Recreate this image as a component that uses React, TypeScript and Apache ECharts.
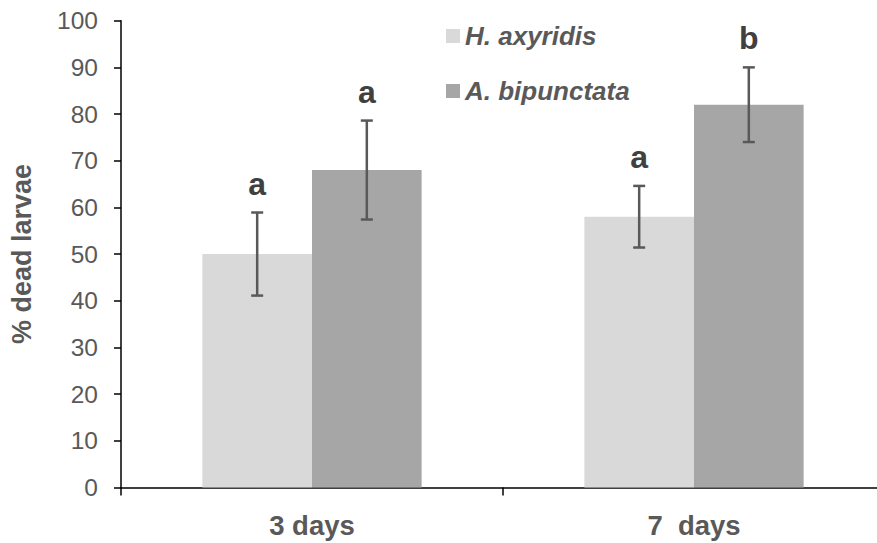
import React, { useEffect, useRef } from "react";
import * as echarts from "echarts";

const categories = ["3 days", "7  days"];
const seriesNames = ["H. axyridis", "A. bipunctata"];
const hValues = [50, 58];
const aValues = [68, 82];
const hErrors = [8.9, 6.6];
const aErrors = [10.6, 8.0];
const hLetters = ["a", "a"];
const aLetters = ["a", "b"];
const yTicks = [0, 10, 20, 30, 40, 50, 60, 70, 80, 90, 100];

const FONT = "'Liberation Sans', Arial, sans-serif";
const BAR_RATIO = 0.287;

function errSeries(name: string, values: number[], errs: number[], letters: string[], sign: number) {
  return {
    type: "custom",
    name: name + " err",
    z: 5,
    clip: false,
    data: values.map((v, i) => [i, v - errs[i], v + errs[i]]),
    encode: { x: 0, y: [1, 2] },
    renderItem: (params: any, api: any) => {
      const cat = api.value(0);
      const lo = api.value(1);
      const hi = api.value(2);
      const band = api.size([1, 0])[0];
      const top = api.coord([cat, hi]);
      const bot = api.coord([cat, lo]);
      const x = top[0] + (sign * band * BAR_RATIO) / 2;
      const cap = 6;
      const st = { stroke: "#595959", lineWidth: 2.5 };
      return {
        type: "group",
        children: [
          { type: "line", shape: { x1: x, y1: top[1], x2: x, y2: bot[1] }, style: st },
          { type: "line", shape: { x1: x - cap, y1: top[1], x2: x + cap, y2: top[1] }, style: st },
          { type: "line", shape: { x1: x - cap, y1: bot[1], x2: x + cap, y2: bot[1] }, style: st },
          {
            type: "text",
            x: x,
            y: top[1] - 13,
            style: {
              text: letters[params.dataIndex],
              fill: "#404040",
              font: `bold 32px ${FONT}`,
              align: "center",
              verticalAlign: "bottom",
            },
          },
        ],
      };
    },
  };
}

export default function App() {
  const ref = useRef<HTMLDivElement>(null);
  useEffect(() => {
    if (!ref.current) return;
    const chart = echarts.init(ref.current, null, { renderer: "svg" });
    chart.setOption({
      animation: false,
      backgroundColor: "#ffffff",
      grid: { left: 121, right: 0, top: 20.7, bottom: 55.6, containLabel: false },
      legend: {
        data: seriesNames,
        orient: "vertical",
        left: 441,
        top: 18,
        itemWidth: 14,
        itemHeight: 14,
        itemGap: 29,
        icon: "rect",
        textStyle: {
          color: "#595959",
          fontSize: 26,
          fontWeight: "bold",
          fontStyle: "italic",
          fontFamily: FONT,
        },
      },
      xAxis: {
        type: "category",
        data: categories,
        axisLine: { lineStyle: { color: "#000000", width: 1.5 } },
        axisTick: { show: true, length: 8, lineStyle: { color: "#000000", width: 1.5 } },
        axisLabel: {
          color: "#595959",
          fontSize: 27.5,
          fontWeight: "bold",
          fontFamily: FONT,
          margin: 24,
        },
      },
      yAxis: {
        type: "value",
        min: 0,
        max: 100,
        interval: 10,
        name: "% dead larvae",
        nameLocation: "middle",
        nameGap: 86,
        nameRotate: 90,
        nameTextStyle: {
          color: "#595959",
          fontSize: 27,
          fontWeight: "bold",
          fontFamily: FONT,
        },
        splitLine: { show: false },
        axisLine: { show: true, lineStyle: { color: "#000000", width: 1.5 } },
        axisTick: { show: true, length: 7, lineStyle: { color: "#000000", width: 1.5 } },
        axisLabel: {
          color: "#595959",
          fontSize: 24.5,
          fontFamily: FONT,
          margin: 23,
          formatter: (v: number) => (yTicks.includes(v) ? String(v) : ""),
        },
      },
      series: [
        {
          type: "bar",
          name: seriesNames[0],
          data: hValues,
          barWidth: BAR_RATIO * 100 + "%",
          barGap: "0%",
          itemStyle: { color: "#d9d9d9" },
        },
        {
          type: "bar",
          name: seriesNames[1],
          data: aValues,
          barWidth: BAR_RATIO * 100 + "%",
          barGap: "0%",
          itemStyle: { color: "#a6a6a6" },
        },
        errSeries(seriesNames[0], hValues, hErrors, hLetters, -1),
        errSeries(seriesNames[1], aValues, aErrors, aLetters, 1),
      ],
    });
    return () => chart.dispose();
  }, []);
  return (
    <div style={{ position: "absolute", left: 0, top: 0, width: 877, height: 543, overflow: "hidden" }}>
      <div ref={ref} style={{ width: 885, height: 543 }} />
    </div>
  );
}
